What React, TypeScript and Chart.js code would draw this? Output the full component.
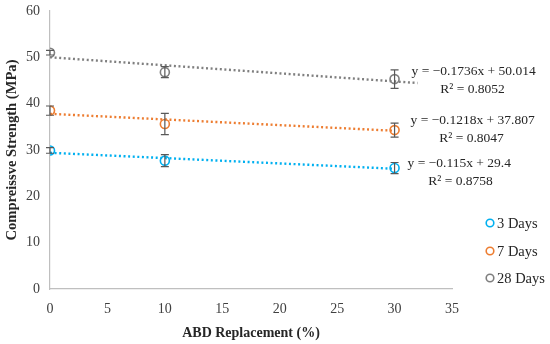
import React, { useEffect, useRef } from "react";
import { Chart, registerables } from "chart.js";

Chart.register(...registerables);

const seriesNames = ["3 Days", "7 Days", "28 Days"];
const xValues = [0, 10, 30];
const days3 = [29.9, 27.7, 26.1];
const days7 = [38.5, 35.6, 34.3];
const days28 = [51.0, 46.8, 45.3];
const err3 = [0.6, 1.3, 1.2];
const err7 = [1.0, 2.3, 1.5];
const err28 = [0.5, 1.2, 2.0];
const slopes = [-0.115, -0.1218, -0.1736];
const intercepts = [29.4, 37.807, 50.014];
const trendEnds = [30, 30, 32];
const eqLabels = ["y = −0.115x + 29.4", "y = −0.1218x + 37.807", "y = −0.1736x + 50.014"];
const r2Labels = ["R² = 0.8758", "R² = 0.8047", "R² = 0.8052"];
const xTicks = [0, 5, 10, 15, 20, 25, 30, 35];
const yTicks = [0, 10, 20, 30, 40, 50, 60];

const colors = ["#00B0F0", "#ED7D31", "#7F7F7F"];
const FONT = "'Liberation Serif', 'DejaVu Serif', serif";

// label layout (pixel offsets from last marker)
const LABEL_LAYOUT = [
  { ex: 13, ey: -5, rx: 66, ry: 13 },
  { ex: 16, ey: -10, rx: 77, ry: 8 },
  { ex: 17, ey: -8, rx: 78, ry: 10 },
];

export default function App() {
  const ref = useRef<HTMLCanvasElement>(null);
  useEffect(() => {
    const values = [days3, days7, days28];
    const errs = [err3, err7, err28];
    const scatterSets = values.map((vals, i) => ({
      type: "scatter" as const,
      label: seriesNames[i],
      data: vals.map((v, j) => ({ x: xValues[j], y: v })),
      borderColor: colors[i],
      backgroundColor: "rgba(255,255,255,0)",
      pointRadius: 4.5,
      pointBorderWidth: 1.6,
      showLine: false,
      order: 1,
      errs: errs[i],
    }));
    const trendSets = slopes.map((m, i) => ({
      type: "line" as const,
      label: "trend" + i,
      data: [
        { x: 0, y: intercepts[i] },
        { x: trendEnds[i], y: intercepts[i] + m * trendEnds[i] },
      ],
      borderColor: colors[i],
      borderWidth: 2.4,
      borderDash: [2, 2.6],
      pointRadius: 0,
      fill: false,
      order: 2,
    }));

    const errorPlugin = {
      id: "errbars",
      afterDatasetsDraw(chart: any) {
        const ctx = chart.ctx;
        const xs = chart.scales.x;
        const ys = chart.scales.y;
        ctx.save();
        ctx.strokeStyle = "#595959";
        ctx.lineWidth = 1.2;
        chart.data.datasets.forEach((ds: any) => {
          if (!ds.errs) return;
          ds.data.forEach((p: any, j: number) => {
            const px = xs.getPixelForValue(p.x);
            const top = ys.getPixelForValue(p.y + ds.errs[j]);
            const bot = ys.getPixelForValue(p.y - ds.errs[j]);
            ctx.beginPath();
            ctx.moveTo(px, top);
            ctx.lineTo(px, bot);
            ctx.moveTo(px - 4, top);
            ctx.lineTo(px + 4, top);
            ctx.moveTo(px - 4, bot);
            ctx.lineTo(px + 4, bot);
            ctx.stroke();
          });
        });
        ctx.restore();
      },
      afterDraw(chart: any) {
        const ctx = chart.ctx;
        const xs = chart.scales.x;
        const ys = chart.scales.y;
        ctx.save();
        ctx.fillStyle = "#262626";
        ctx.font = "13.5px " + FONT;
        ctx.textBaseline = "middle";
        for (let i = 0; i < 3; i++) {
          const vals = [days3, days7, days28][i];
          const L = LABEL_LAYOUT[i];
          const px = xs.getPixelForValue(xValues[2]);
          const py = ys.getPixelForValue(vals[2]);
          ctx.textAlign = "left";
          ctx.fillText(eqLabels[i], px + L.ex, py + L.ey);
          ctx.textAlign = "center";
          ctx.fillText(r2Labels[i], px + L.rx, py + L.ry);
        }
        // legend
        const lx = 490;
        const ly = [223, 251, 278];
        ctx.textAlign = "left";
        ctx.font = "14.5px " + FONT;
        for (let i = 0; i < 3; i++) {
          ctx.beginPath();
          ctx.strokeStyle = colors[i];
          ctx.lineWidth = 1.6;
          ctx.arc(lx, ly[i], 3.8, 0, Math.PI * 2);
          ctx.stroke();
          ctx.fillStyle = "#262626";
          ctx.fillText(seriesNames[i], lx + 7, ly[i] + 1);
        }
        ctx.restore();
      },
    };

    const chart = new Chart(ref.current as HTMLCanvasElement, {
      type: "scatter",
      data: { datasets: [...scatterSets, ...trendSets] as any },
      options: {
        animation: false,
        responsive: false,
        layout: { padding: { top: 11, right: 98, left: 0, bottom: 0 } },
        plugins: { legend: { display: false }, tooltip: { enabled: false } },
        scales: {
          x: {
            type: "linear",
            min: 0,
            max: 35,
            afterBuildTicks: (s: any) => {
              s.ticks = xTicks.map((v) => ({ value: v }));
            },
            afterFit: (s: any) => {
              s.height = 55;
              s.paddingLeft = 0;
              s.paddingRight = 0;
            },
            grid: { display: false, drawTicks: false },
            border: { color: "#BFBFBF", width: 1.2 },
            ticks: { color: "#404040", font: { family: FONT, size: 14 }, padding: 12 },
            title: {
              display: true,
              text: "ABD Replacement (%)",
              color: "#262626",
              font: { family: FONT, size: 14, weight: "bold" },
              padding: { top: 2, bottom: 2 },
            },
          },
          y: {
            type: "linear",
            min: 0,
            max: 60,
            afterBuildTicks: (s: any) => {
              s.ticks = yTicks.map((v) => ({ value: v }));
            },
            afterFit: (s: any) => {
              s.width = 50;
              s.paddingTop = 0;
              s.paddingBottom = 0;
            },
            grid: { display: false, drawTicks: false },
            border: { color: "#BFBFBF", width: 1.2 },
            ticks: { color: "#404040", font: { family: FONT, size: 14 }, padding: 10 },
            title: {
              display: true,
              text: "Compreissve Strength (MPa)",
              color: "#262626",
              font: { family: FONT, size: 14.6, weight: "bold" },
              padding: { top: 3, bottom: 2 },
            },
          },
        },
      },
      plugins: [errorPlugin],
    });
    return () => chart.destroy();
  }, []);
  return (
    <div style={{ position: "fixed", left: 0, top: 0, width: 550, height: 344, background: "#fff" }}>
      <canvas ref={ref} width={550} height={344} />
    </div>
  );
}
